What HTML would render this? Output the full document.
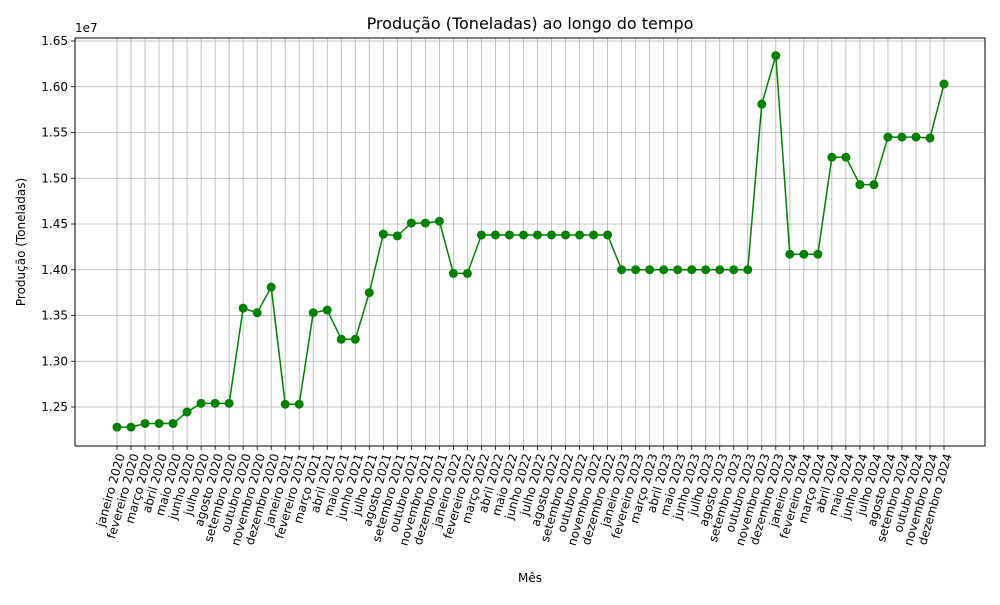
<!DOCTYPE html>
<html><head><meta charset="utf-8"><style>
body{margin:0;background:#fff;font-family:"Liberation Sans","DejaVu Sans",sans-serif;}
svg text{font-family:"DejaVu Sans","Liberation Sans",sans-serif;}
</style></head><body>
<svg id="chart" width="1000" height="600" xmlns="http://www.w3.org/2000/svg">
<rect x="0" y="0" width="1000" height="600" fill="#fff"/>
<g id="grid"></g>
<g id="series"></g>
<rect x="75" y="38" width="910" height="408" fill="none" stroke="#000" stroke-width="1"/>
<g id="axes"></g>
<text x="530" y="29" font-size="16" text-anchor="middle">Produção (Toneladas) ao longo do tempo</text>
<text x="530" y="582" font-size="12" text-anchor="middle">Mês</text>
<text x="25" y="242" font-size="12" text-anchor="middle" transform="rotate(-90 25 242)">Produção (Toneladas)</text>
<text x="75" y="32" font-size="12">1e7</text>
</svg>
<script>
const months = ["janeiro","fevereiro","março","abril","maio","junho","julho","agosto","setembro","outubro","novembro","dezembro"];
const years = [2020,2021,2022,2023,2024];
const values = [1.228,1.228,1.232,1.232,1.232,1.2445,1.254,1.254,1.254,1.358,1.353,1.381,
1.253,1.253,1.353,1.356,1.324,1.324,1.375,1.439,1.437,1.451,1.451,1.453,
1.396,1.396,1.438,1.438,1.438,1.438,1.438,1.438,1.438,1.438,1.438,1.438,
1.400,1.400,1.400,1.400,1.400,1.400,1.400,1.400,1.400,1.400,1.581,1.634,
1.417,1.417,1.417,1.523,1.523,1.493,1.493,1.545,1.545,1.545,1.544,1.603];
const yTicks = [1.25,1.30,1.35,1.40,1.45,1.50,1.55,1.60,1.65];
const categories = [];
years.forEach(y=>months.forEach(m=>categories.push(m+" "+y)));
const NS="http://www.w3.org/2000/svg";
const x0=117, x1=944;
const xs=i=>x0+i*(x1-x0)/(categories.length-1);
const ys=v=>407-(v-1.25)*(366/0.4);
function mk(t,a,p){const e=document.createElementNS(NS,t);for(const k in a)e.setAttribute(k,a[k]);p.appendChild(e);return e;}
const grid=document.getElementById('grid'),axes=document.getElementById('axes'),ser=document.getElementById('series');
categories.forEach((c,i)=>{
  const x=xs(i);
  const g=mk('line',{x1:x,x2:x,y1:38,y2:446,stroke:'#b0b0b0','stroke-width':0.8},grid);
  
  
  const t=mk('line',{x1:x,x2:x,y1:446,y2:450,stroke:'#000','stroke-width':0.8},axes);
  
  
  const lx=x+8, ly=455;
  const l=mk('text',{x:lx,y:ly,'font-size':12,'text-anchor':'end',transform:`rotate(-74 ${lx} ${ly})`},axes);
  l.textContent=c;
  
  
});
yTicks.forEach(v=>{
  const y=ys(v);
  const g=mk('line',{x1:75,x2:985,y1:y,y2:y,stroke:'#b0b0b0','stroke-width':0.8},grid);
  
  
  const t=mk('line',{x1:71,x2:75,y1:y,y2:y,stroke:'#000','stroke-width':0.8},axes);
  
  
  const l=mk('text',{x:68,y:y+4,'font-size':12,'text-anchor':'end'},axes);
  l.textContent=v.toFixed(2);
  
  
});
const pl=mk('polyline',{points:values.map((v,i)=>xs(i)+','+ys(v)).join(' '),fill:'none',stroke:'#008000','stroke-width':1.5},ser);


values.forEach((v,i)=>{
  const c=mk('circle',{cx:xs(i),cy:ys(v),r:4.5,fill:'#008000'},ser);
  
  
});
</script>
</body></html>
